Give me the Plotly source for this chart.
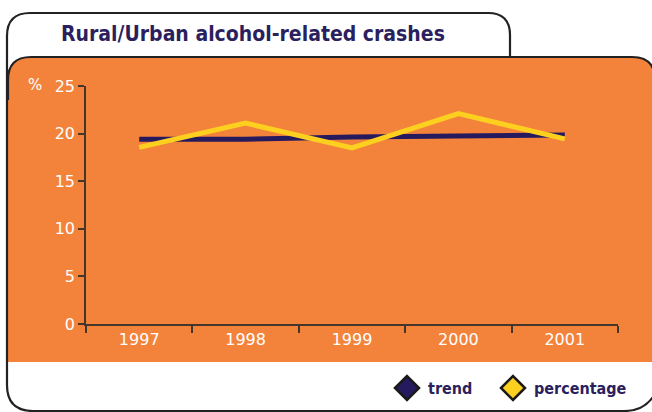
import plotly.graph_objects as go

# ---- data ----
years = ["1997", "1998", "1999", "2000", "2001"]
trend = [19.4, 19.4, 19.65, 19.8, 19.85]
percentage = [18.55, 21.1, 18.5, 22.1, 19.45]
series_names = ["trend", "percentage"]
y_ticks = [0, 5, 10, 15, 20, 25]
title_text = "Rural/Urban alcohol-related crashes"
y_unit = "%"

# ---- style ----
W, H = 652, 412
ML, MR, MT, MB = 86, 34, 86, 88
PW, PH = W - ML - MR, H - MT - MB
ORANGE = "#F3833B"
NAVY = "#261A5E"
YELLOW = "#FDD020"
AXIS = "#45362C"
TITLE = "#2B1F5E"
NARROW = "Liberation Sans Narrow, DejaVu Sans Condensed, sans-serif"


def px(x):
    return (x - ML) / PW


def py(y):
    return (H - MB - y) / PH


def path(cmds):
    out = []
    for c in cmds:
        op = c[0]
        pts = c[1:]
        seg = op
        for i in range(0, len(pts), 2):
            seg += " %.5f,%.5f" % (px(pts[i]), py(pts[i + 1]))
        out.append(seg)
    return " ".join(out)


fig = go.Figure()
fig.add_trace(go.Scatter(x=years, y=trend, mode="lines", name=series_names[0],
                         line=dict(color=NAVY, width=5), showlegend=False))
fig.add_trace(go.Scatter(x=years, y=percentage, mode="lines", name=series_names[1],
                         line=dict(color=YELLOW, width=5), showlegend=False))

shapes = []
# orange panel
shapes.append(dict(type="path", xref="paper", yref="paper", layer="below",
                   path=path([("M", 8, 362), ("L", 8, 80), ("Q", 8, 57, 31, 57),
                              ("L", 632, 57), ("Q", 655, 57, 655, 80),
                              ("L", 655, 362), ("Z",)]),
                   fillcolor=ORANGE, line=dict(width=0)))
# outer frame with title tab
shapes.append(dict(type="path", xref="paper", yref="paper", layer="below",
                   path=path([("M", 510, 57), ("L", 510, 35), ("Q", 510, 13, 488, 13),
                              ("L", 30, 13), ("Q", 7, 13, 7, 36), ("L", 7, 385),
                              ("Q", 7, 411, 33, 411), ("L", 624, 411),
                              ("Q", 646, 411, 656, 392)]),
                   line=dict(color="#222222", width=2.2)))
# panel top border
shapes.append(dict(type="path", xref="paper", yref="paper", layer="below",
                   path=path([("M", 8, 100), ("L", 8, 80), ("Q", 8, 57, 31, 57),
                              ("L", 632, 57), ("Q", 655, 57, 655, 80)]),
                   line=dict(color="#222222", width=2.2)))

# legend (manual diamonds)
legend_pos = [(407, 388, NAVY), (513, 388, YELLOW)]
annotations = []
for (cx, cy, col), name in zip(legend_pos, series_names):
    shapes.append(dict(type="path", xref="paper", yref="paper", layer="above",
                       path=path([("M", cx - 12, cy), ("L", cx, cy - 12), ("L", cx + 12, cy),
                                  ("L", cx, cy + 12), ("Z",)]),
                       fillcolor=col, line=dict(color="#1a1a1a", width=2.5)))
    annotations.append(dict(xref="paper", yref="paper", x=px(cx + 19), y=py(cy),
                            xanchor="left", yanchor="middle", showarrow=False,
                            text="<b>" + name + "</b>",
                            font=dict(family=NARROW, size=16, color=TITLE)))

annotations.append(dict(xref="paper", yref="paper", x=px(59), y=py(34),
                        xanchor="left", yanchor="middle", showarrow=False,
                        text="<b>" + title_text + "</b>",
                        font=dict(family=NARROW, size=21, color=TITLE)))
annotations.append(dict(xref="paper", yref="paper", x=px(35), y=py(85),
                        xanchor="center", yanchor="middle", showarrow=False,
                        text=y_unit, font=dict(family="DejaVu Sans", size=15, color="white")))

fig.update_layout(
    width=W, height=H,
    margin=dict(l=ML, r=MR, t=MT, b=MB),
    paper_bgcolor="white", plot_bgcolor="rgba(0,0,0,0)",
    shapes=shapes, annotations=annotations, showlegend=False,
    font=dict(family="DejaVu Sans", size=16, color="white"),
)
fig.update_xaxes(type="category", range=[-0.5, 4.5], tickson="boundaries",
                 ticks="outside", ticklen=7, tickwidth=1.5, tickcolor=AXIS,
                 showline=True, linecolor=AXIS, linewidth=1.5, showgrid=False,
                 zeroline=False, tickfont=dict(color="white", size=16))
fig.update_yaxes(range=[0, 25], tickvals=y_ticks, ticks="outside", ticklen=6,
                 tickwidth=1.5, tickcolor=AXIS, showline=True, linecolor=AXIS,
                 linewidth=1.5, showgrid=False, zeroline=False,
                 tickfont=dict(color="white", size=16))

fig.write_html("out.html", config={"displayModeBar": False},
               post_script="document.body.style.margin='0';document.body.style.overflow='hidden';")
